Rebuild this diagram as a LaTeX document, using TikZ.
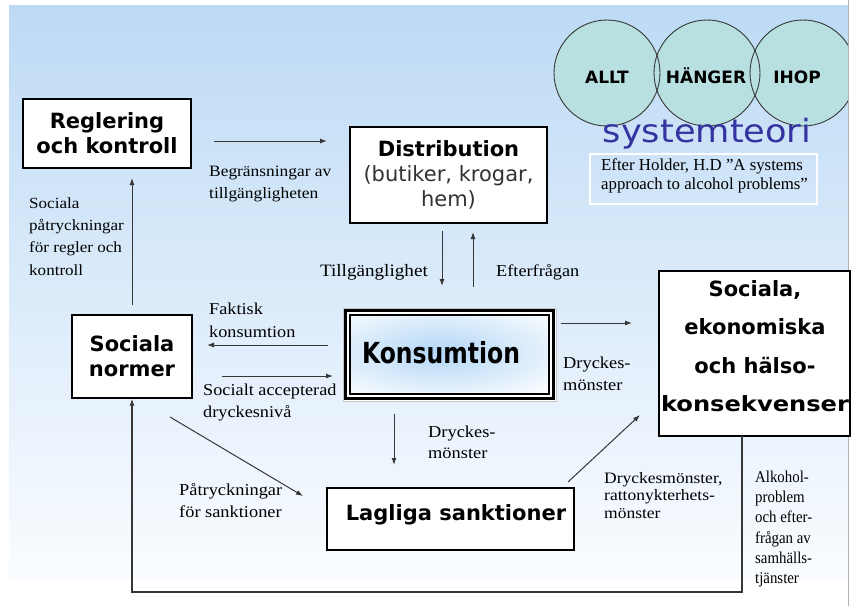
\documentclass[tikz,border=0pt]{standalone}
\usepackage{fontspec}
\usepackage{graphicx}
\setmainfont{Liberation Serif}
\newfontfamily\boxfont{DejaVu Sans}
\newfontfamily\lblfont[FakeStretch=1.1]{Liberation Serif}
\newfontfamily\plainlbl{Liberation Serif}
\newfontfamily\narrowlbl[FakeStretch=0.9]{Liberation Serif}
\newfontfamily\sysfont[FakeStretch=1.1]{DejaVu Sans}
\newfontfamily\konsfont[FakeStretch=0.81]{DejaVu Sans}
\usetikzlibrary{arrows.meta}
\definecolor{bgtop}{RGB}{189,218,245}
\definecolor{bgbot}{RGB}{250,252,255}
\definecolor{circfill}{RGB}{184,224,224}
\definecolor{sysblue}{RGB}{52,52,160}
\definecolor{glow}{RGB}{178,214,246}
\definecolor{lineg}{RGB}{55,55,55}
\definecolor{subgray}{RGB}{50,50,50}
\tikzset{
  box/.style={draw=black, line width=1.2pt, fill=white, inner sep=0pt, align=center,
    font={\boxfont\bfseries\fontsize{21}{25}\selectfont}},
  boxtxt/.style={inner sep=0pt, align=center, font={\boxfont\bfseries\fontsize{21}{25}\selectfont}},
  circtxt/.style={inner sep=0pt, anchor=base, font={\boxfont\bfseries\fontsize{17}{20}\selectfont}},
  lbl/.style={inner sep=0pt, align=left, anchor=west, font={\lblfont\fontsize{16}{22}\selectfont}},
  arr/.style={draw=lineg, line width=1pt, -{Latex[length=7pt,width=5pt]}},
}
\begin{document}
\begin{tikzpicture}[x=1pt,y=-1pt]
\useasboundingbox (0,0) rectangle (856,606);
\fill[white] (0,0) rectangle (856,606);
\shade[top color=bgtop,bottom color=bgbot] (9,5) rectangle (848,580);
\draw[gray!60, line width=1.2pt] (848.5,0) -- (848.5,606);

% circles
\begin{scope}
\clip (0,0) rectangle (848,606);
\fill[circfill] (607,73) circle[radius=53];
\fill[circfill] (707,73) circle[radius=53];
\fill[circfill] (803,73) circle[radius=53];
\draw[lineg, line width=0.9pt] (607,73) circle[radius=53];
\draw[lineg, line width=0.9pt] (707,73) circle[radius=53];
\draw[lineg, line width=0.9pt] (803,73) circle[radius=53];
\end{scope}
\node[circtxt] (allt) at (607,83) {ALLT};
\node[circtxt] (hanger) at (706,83) {HÄNGER};
\node[circtxt] (ihop) at (797,83) {IHOP};

\node[font={\sysfont\fontsize{32}{36}\selectfont}, text=sysblue, anchor=base, inner sep=0pt] (sys) at (707,142) {systemteori};
\node[draw=white, line width=1.3pt, minimum width=227, minimum height=50, inner sep=0pt] (refbox) at (703.5,179) {};
\node[inner sep=0pt, align=left, anchor=west, font={\plainlbl\fontsize{16.8}{19}\selectfont}] (reftext) at (601,175.5) {Efter Holder, H.D ”A systems\\approach to alcohol problems”};

% connectors
\coordinate (a1s) at (214,141); \coordinate (a1e) at (327,141);
\coordinate (a2s) at (442,231); \coordinate (a2e) at (442,286);
\coordinate (a3s) at (473,287); \coordinate (a3e) at (473,232);
\coordinate (a4s) at (328,345); \coordinate (a4e) at (207,345);
\coordinate (a5s) at (222,376); \coordinate (a5e) at (333,376);
\coordinate (a6s) at (132,305); \coordinate (a6e) at (132,178);
\coordinate (a7s) at (561,323); \coordinate (a7e) at (632,323);
\coordinate (a8s) at (394,414); \coordinate (a8e) at (394,465);
\coordinate (a9s) at (170,417); \coordinate (a9e) at (303,496);
\coordinate (a10s) at (568,482); \coordinate (a10e) at (640,415);
\coordinate (fb1) at (742,436); \coordinate (fb2) at (742,592); \coordinate (fb3) at (132,592);

\draw[arr] (a1s) -- (a1e);
\draw[arr] (a2s) -- (a2e);
\draw[arr] (a3s) -- (a3e);
\draw[arr] (a4s) -- (a4e);
\draw[arr] (a5s) -- (a5e);
\draw[arr] (a6s) -- (a6e);
\draw[arr] (a7s) -- (a7e);
\draw[arr] (a8s) -- (a8e);
\draw[arr] (a9s) -- (a9e);
\draw[arr] (a10s) -- (a10e);

% boxes
\node[box, minimum width=168, minimum height=69] (reg) at (107,133.5) {Reglering\\och kontroll};
\node[box, minimum width=197, minimum height=96] (dist) at (448.5,175) {Distribution\\{\mdseries\color{subgray}(butiker, krogar,}\\{\mdseries\color{subgray}hem)}};
\node[box, minimum width=120, minimum height=83] (norm) at (132,356.5) {Sociala\\normer};
\node[box, minimum width=247, minimum height=62] (lag) at (450.5,519) {};
\node[boxtxt] (lagtxt) at (456,515) {Lagliga sanktioner};
\node[box, minimum width=191, minimum height=165] (cons) at (754.5,353.5) {};
\node[inner sep=0pt, align=center, font={\boxfont\bfseries\fontsize{21}{38.5}\selectfont}] (constxt) at (755,346) {Sociala,\\ekonomiska\\och hälso-\\\scalebox{1.15}[1]{konsekvenser}};

\draw[arr, line width=1.3pt] (fb1) -- (fb2) -- (fb3) -- (norm.south);

% Konsumtion
\node[draw=gray!45, line width=1pt, fill=white, minimum width=213, minimum height=93, inner sep=0pt] (kons) at (449.5,354.5) {};
\begin{scope}
\clip (350,315) rectangle (549,394);
\shade[inner color=glow, outer color=white] (441,352) ellipse [x radius=160, y radius=58];
\end{scope}
\draw[black, line width=3.5pt] (345.5,310.5) rectangle (553.5,398.5);
\draw[black, line width=1.2pt] (350,315) rectangle (549,394);
\node[inner sep=0pt, font={\konsfont\bfseries\fontsize{29}{32}\selectfont}] (konstxt) at (441,353) {Konsumtion};

% labels
\node[lbl, font={\lblfont\fontsize{15.8}{22}\selectfont}] (l1) at (209,184) {Begränsningar av\\tillgängligheten};
\node[lbl, font={\lblfont\fontsize{15.5}{22.3}\selectfont}] (l2) at (29,236.5) {Sociala\\påtryckningar\\för regler och\\kontroll};
\node[lbl, anchor=east, font={\lblfont\fontsize{17.4}{22}\selectfont}] (l3) at (428,272) {Tillgänglighet};
\node[lbl, font={\lblfont\fontsize{16.6}{22}\selectfont}] (l4) at (496,272) {Efterfrågan};
\node[lbl, font={\lblfont\fontsize{16.6}{23}\selectfont}] (l5) at (209,320.5) {Faktisk\\konsumtion};
\node[lbl, font={\lblfont\fontsize{16.6}{21.5}\selectfont}] (l6) at (203,402.5) {Socialt accepterad\\dryckesnivå};
\node[lbl, font={\lblfont\fontsize{16.7}{22}\selectfont}] (l7) at (563,374) {Dryckes-\\mönster};
\node[lbl, font={\lblfont\fontsize{16.7}{21}\selectfont}] (l8) at (428,442.5) {Dryckes-\\mönster};
\node[lbl, font={\lblfont\fontsize{16.7}{22}\selectfont}] (l9) at (179,501) {Påtryckningar\\för sanktioner};
\node[lbl, font={\lblfont\fontsize{15.9}{17.5}\selectfont}] (l10) at (604,495.5) {Dryckesmönster,\\rattonykterhets-\\mönster};
\node[lbl, font={\narrowlbl\fontsize{16.5}{20.3}\selectfont}] (l11) at (755,529) {Alkohol-\\problem\\och efter-\\frågan av\\samhälls-\\tjänster};
\end{tikzpicture}
\end{document}
